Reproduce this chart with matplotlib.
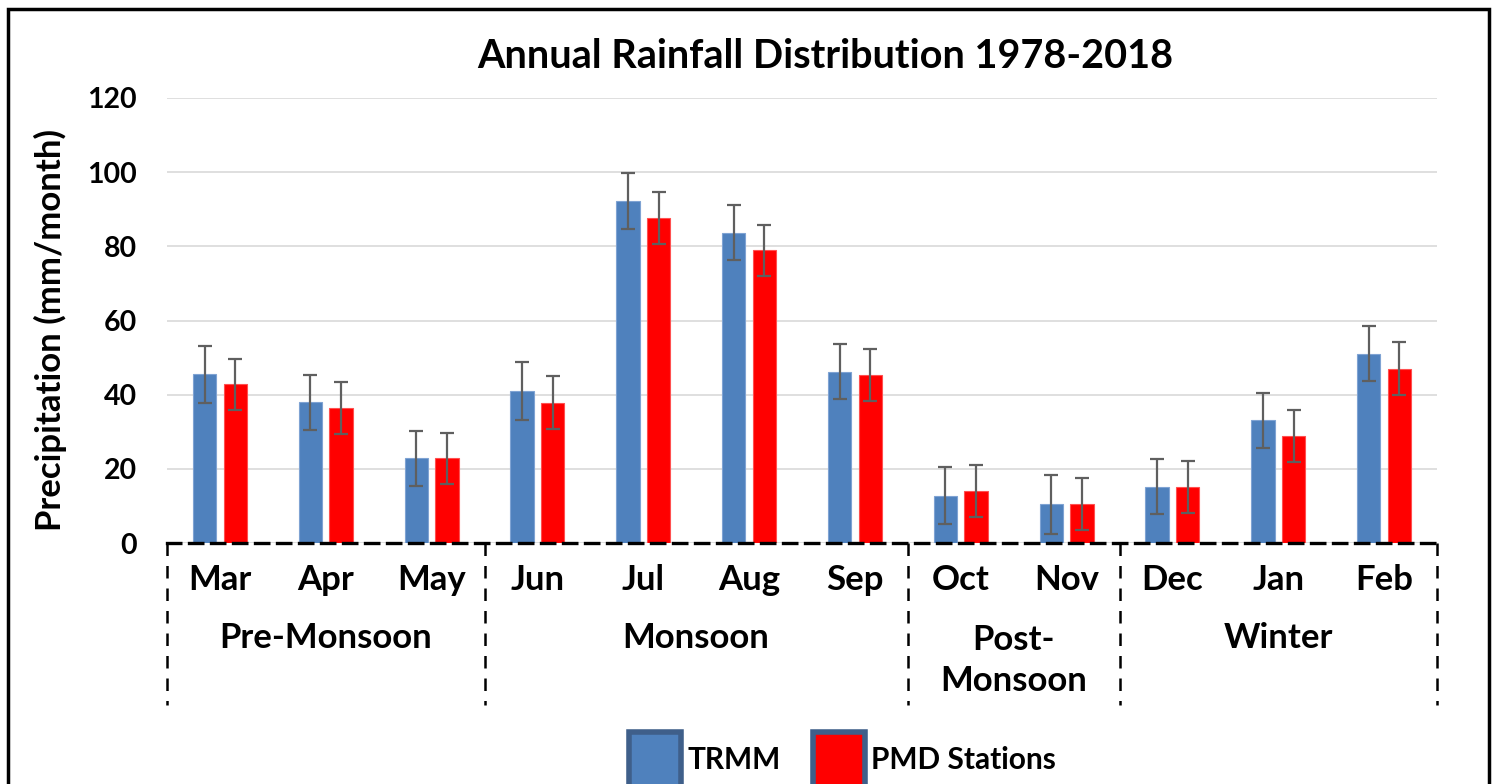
import numpy as np
import matplotlib
matplotlib.use("Agg")
import matplotlib.pyplot as plt
from matplotlib.patches import Patch, Rectangle
import matplotlib.transforms as mtransforms

plt.rcParams['font.family'] = ['Lato', 'DejaVu Sans']
plt.rcParams['font.weight'] = 'bold'

months = ['Mar', 'Apr', 'May', 'Jun', 'Jul', 'Aug', 'Sep', 'Oct', 'Nov', 'Dec', 'Jan', 'Feb']
trmm = [45.5, 37.9, 22.8, 41.1, 92.3, 83.7, 46.2, 12.8, 10.4, 15.2, 33.1, 51.1]
trmm_err = [7.7, 7.4, 7.5, 7.8, 7.5, 7.4, 7.5, 7.8, 7.9, 7.5, 7.4, 7.3]
pmd = [42.8, 36.3, 22.8, 37.8, 87.6, 78.9, 45.4, 14.0, 10.4, 15.2, 28.8, 47.0]
pmd_err = [6.9, 7.0, 6.9, 7.1, 7.1, 6.9, 7.0, 7.0, 7.0, 7.0, 7.0, 7.1]
seasons = ['Pre-Monsoon', 'Monsoon', 'Post-\nMonsoon', 'Winter']
season_sizes = [3, 4, 2, 3]

W, H = 1497, 784
fig = plt.figure(figsize=(W / 100, H / 100), dpi=100)
ax = fig.add_axes([167 / W, 1 - 543 / H, (1437 - 167) / W, (543 - 98) / H])

x = np.arange(len(months))
bw = 0.22
ekw = dict(ecolor='#5F5F5F', elinewidth=1.6, capsize=5, capthick=1.6)
ax.bar(x - 0.145, trmm, bw, color='#4F81BD', edgecolor='#7FA3D3', linewidth=0.8,
       yerr=trmm_err, error_kw=ekw, zorder=3)
ax.bar(x + 0.145, pmd, bw, color='#FF0000', edgecolor='#FF5050', linewidth=0.8,
       yerr=pmd_err, error_kw=ekw, zorder=3)

ax.set_xlim(-0.5, len(months) - 0.5)
ax.set_ylim(0, 120)
ax.set_yticks(np.arange(0, 121, 20))
ax.yaxis.grid(True, color='#D9D9D9', linewidth=1.2, zorder=0)
ax.set_axisbelow(True)
ax.tick_params(axis='y', length=0, labelsize=20.5, pad=21.5)
ax.tick_params(axis='x', length=0, labelbottom=False)
for lab in ax.get_yticklabels():
    lab.set_fontweight('bold')
for s in ['top', 'right', 'left']:
    ax.spines[s].set_visible(False)
ax.spines['bottom'].set_linestyle((0, (4, 2.6)))
ax.spines['bottom'].set_linewidth(2.4)
ax.spines['bottom'].set_zorder(4)

# multi-level category axis
tr = mtransforms.blended_transform_factory(ax.transData, ax.transAxes)
bounds = np.concatenate([[0], np.cumsum(season_sizes)]) - 0.5
for b in bounds:
    ax.plot([b, b], [0, -0.365], transform=tr, color='black', linewidth=1.8,
            linestyle=(0, (5, 4)), clip_on=False)
for i, m in enumerate(months):
    ax.text(i, -0.083, m, transform=tr, ha='center', va='center', fontsize=25,
            fontweight='bold')
for k, s in enumerate(seasons):
    cx = (bounds[k] + bounds[k + 1]) / 2
    ax.text(cx, -0.213 if '\n' not in s else -0.265, s, transform=tr, ha='center',
            va='center', fontsize=25, fontweight='bold', linespacing=1.35)

fig.text(825 / W, 1 - 57 / H, 'Annual Rainfall Distribution 1978-2018', ha='center',
         va='center', fontsize=28.5, fontweight='bold')
fig.text(50 / W, 1 - 330 / H, 'Precipitation (mm/month)', ha='center', va='center',
         rotation=90, fontsize=25, fontweight='bold')

handles = [Patch(facecolor='#4F81BD', edgecolor='#3F5F8A', linewidth=4, label='TRMM'),
           Patch(facecolor='#FF0000', edgecolor='#3F5F8A', linewidth=4, label='PMD Stations')]
leg = fig.legend(handles=handles, loc='upper left', bbox_to_anchor=(602 / W, 1 - 705 / H),
                 ncol=2, frameon=False, fontsize=21.5, handlelength=1.75, handleheight=2.5,
                 handletextpad=0.2, columnspacing=1.1)
for t in leg.get_texts():
    t.set_fontweight('bold')

fig.patches.append(Rectangle((8 / W, -0.05), (1489 - 8) / W, 1.05 - 9 / H,
                             transform=fig.transFigure, fill=False, edgecolor='black',
                             linewidth=2.5))

fig.savefig('out.png', dpi=100)
